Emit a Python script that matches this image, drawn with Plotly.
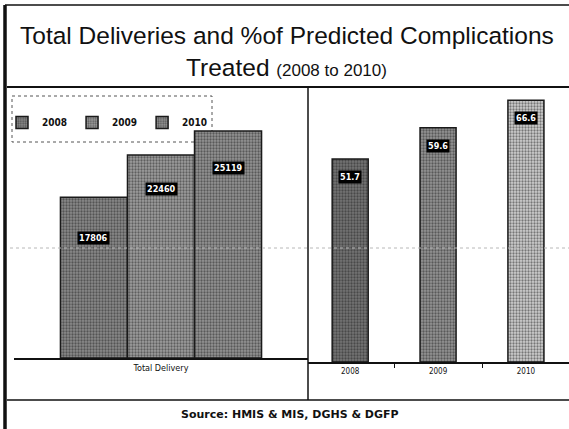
import plotly.graph_objects as go

# ---- data ----
years = ["2008", "2009", "2010"]
total_deliveries = [17806, 22460, 25119]
pct_complications_treated = [51.7, 59.6, 66.6]
delivery_category = "Total Delivery"
title_line1 = "Total Deliveries and %of Predicted Complications"
title_line2 = "Treated"
title_period = "(2008 to 2010)"
source_note = "Source: HMIS & MIS, DGHS & DGFP"

# ---- styling ----
W, H = 569, 429
left_bg = ["#8a8a8a", "#9e9e9e", "#949494"]
right_bg = ["#747474", "#949494", "#cfcfcf"]
grain = "#1e1e1e"
narrow = "DejaVu Sans Condensed, Liberation Sans Narrow, Arial Narrow, sans-serif"
serif_free = "Liberation Sans, Arial, sans-serif"


def px(x):
    return x / W


def py(y):
    return 1 - y / H


def textured(bg):
    return dict(
        color=bg,
        line=dict(color="#1a1a1a", width=1.5),
        pattern=dict(shape=".", fillmode="overlay", fgcolor=grain,
                     bgcolor=bg, size=3, solidity=0.45),
    )


bar_w = 0.228
left_offsets = [-1.5 * bar_w, -0.5 * bar_w, 0.5 * bar_w]
right_w = 0.41

fig = go.Figure()

# left panel: total deliveries, one bar per year
for yr, val, bg, off in zip(years, total_deliveries, left_bg, left_offsets):
    fig.add_trace(go.Bar(
        x=[delivery_category], y=[val], name=f"<b>{yr}</b>",
        width=bar_w, offset=off, xaxis="x", yaxis="y",
        marker=textured(bg), hovertemplate=f"{yr}: %{{y}}<extra></extra>",
    ))

# right panel: % of predicted complications treated
for yr, val, bg in zip(years, pct_complications_treated, right_bg):
    fig.add_trace(go.Bar(
        x=[yr], y=[val], width=right_w, xaxis="x2", yaxis="y2",
        showlegend=False, marker=textured(bg),
        hovertemplate=f"{yr}: %{{y}}%<extra></extra>",
    ))

annotations = []
# value labels: white on black boxes near bar tops
for val, off, ys in zip(total_deliveries, left_offsets, [-34, -27, -30]):
    annotations.append(dict(
        x=off + bar_w / 2, y=val, xref="x", yref="y", yanchor="top", yshift=ys,
        text=f"<b>{val}</b>", showarrow=False, bgcolor="#000000",
        font=dict(family=narrow, size=9, color="white"), borderpad=1,
    ))
for i, val in enumerate(pct_complications_treated):
    annotations.append(dict(
        x=i, y=val, xref="x2", yref="y2", yanchor="top", yshift=-11,
        text=f"<b>{val}</b>", showarrow=False, bgcolor="#000000",
        font=dict(family=narrow, size=9, color="white"), borderpad=1,
    ))

# title and source
annotations.append(dict(x=px(287), y=py(35), xref="paper", yref="paper",
                        xanchor="center", yanchor="middle",
                        text=title_line1, showarrow=False,
                        font=dict(family=serif_free, size=24.5, color="#111")))
annotations.append(dict(x=px(286), y=py(67), xref="paper", yref="paper",
                        xanchor="center", yanchor="middle",
                        text=f"{title_line2} <span style='font-size:17px'>{title_period}</span>",
                        showarrow=False,
                        font=dict(family=serif_free, size=24.5, color="#111")))
annotations.append(dict(x=px(290), y=py(414), xref="paper", yref="paper",
                        xanchor="center", yanchor="middle",
                        text=f"<b>{source_note}</b>", showarrow=False,
                        font=dict(family="DejaVu Sans, Verdana, sans-serif", size=11, color="#111")))

line = dict(color="#111111", width=1.5)
shapes = [
    # outer frame
    dict(type="line", xref="paper", yref="paper", x0=px(5), x1=px(5), y0=py(5), y1=py(429),
         line=dict(color="#111", width=3.5)),
    dict(type="line", xref="paper", yref="paper", x0=px(5), x1=1, y0=py(5), y1=py(5), line=line),
    # panel frame
    dict(type="line", xref="paper", yref="paper", x0=px(7), x1=1, y0=py(87), y1=py(87),
         line=dict(color="#111", width=2)),
    dict(type="line", xref="paper", yref="paper", x0=px(308), x1=px(308), y0=py(87), y1=py(400),
         line=line),
    dict(type="line", xref="paper", yref="paper", x0=px(7), x1=1, y0=py(400), y1=py(400), line=line),
    # dotted gridline
    dict(type="line", xref="paper", yref="paper", x0=px(10), x1=1, y0=py(248), y1=py(248),
         line=dict(color="#b8b8b8", width=1, dash="dot"), layer="above"),
    # legend box, kept beneath the bars
    dict(type="rect", xref="paper", yref="paper", x0=px(12), x1=px(212), y0=py(96), y1=py(142),
         line=dict(color="#555", width=1, dash="dot"), layer="below"),
]

fig.update_layout(
    width=W, height=H,
    margin=dict(l=0, r=0, t=0, b=0),
    paper_bgcolor="white", plot_bgcolor="rgba(0,0,0,0)",
    showlegend=True,
    legend=dict(orientation="h", x=px(2), y=py(108), xanchor="left", yanchor="top",
                bgcolor="rgba(0,0,0,0)", font=dict(family=narrow, size=10, color="#111"),
                itemwidth=30, traceorder="normal"),
    xaxis=dict(domain=[px(14), px(308)], range=[-0.5, 0.5], type="category",
               showline=True, linecolor="#111", linewidth=2, ticks="",
               tickfont=dict(family=narrow, size=9, color="#111"), showgrid=False),
    yaxis=dict(domain=[py(358), py(87)], range=[0, 30000], showgrid=False,
               zeroline=False, showticklabels=False),
    xaxis2=dict(domain=[px(308), 1], range=[-0.48, 2.49], type="category", anchor="y2",
                showline=True, linecolor="#111", linewidth=2, ticks="outside",
                tickson="boundaries", ticklen=4, tickcolor="#111",
                tickfont=dict(family=narrow, size=8, color="#111"), showgrid=False),
    yaxis2=dict(domain=[py(362), py(87)], range=[0, 70], anchor="x2", showgrid=False,
                zeroline=False, showticklabels=False),
    annotations=annotations,
    shapes=shapes,
)

fig.write_html("out.html")
